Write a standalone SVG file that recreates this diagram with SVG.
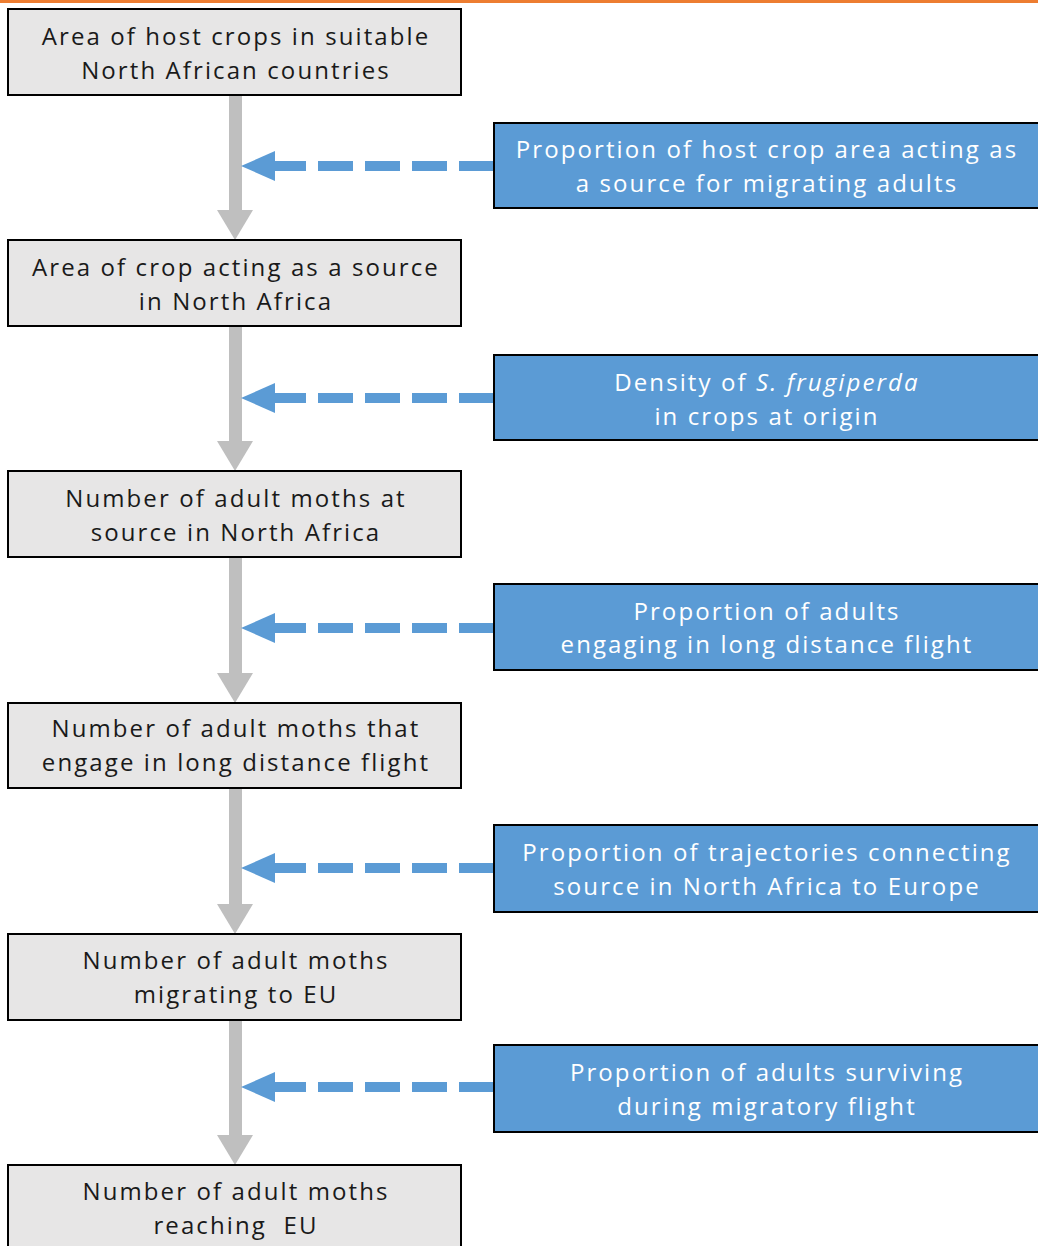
<svg xmlns="http://www.w3.org/2000/svg" width="1038" height="1246" viewBox="0 0 1038 1246">
<style>
.g{fill:#E7E6E6;stroke:#000;stroke-width:2}
.b{fill:#5B9BD5;stroke:#000;stroke-width:2}
.tg{font-family:"Open Sans","DejaVu Sans",sans-serif;font-size:24px;letter-spacing:2.1px;fill:#1a1a1a;text-anchor:middle;white-space:pre}
.tb{font-family:"Open Sans","DejaVu Sans",sans-serif;font-size:24px;letter-spacing:2.1px;fill:#fff;text-anchor:middle}
.sh{fill:#BFBFBF}
.dl{stroke:#5B9BD5;stroke-width:10;stroke-dasharray:35 12;fill:none}
.ah{fill:#5B9BD5}
</style>
<rect x="0" y="0" width="1038" height="3" fill="#ED7D31"/>
<g id="connectors">
<g class="sh">
<rect x="229" y="95" width="13" height="116"/><polygon points="217,210 253,210 235,240"/>
<rect x="229" y="326" width="13" height="116"/><polygon points="217,441 253,441 235,471"/>
<rect x="229" y="557" width="13" height="117"/><polygon points="217,673 253,673 235,703"/>
<rect x="229" y="788" width="13" height="117"/><polygon points="217,904 253,904 235,934"/>
<rect x="229" y="1020" width="13" height="116"/><polygon points="217,1135 253,1135 235,1165"/>
</g>
<path class="dl" d="M494 166H275M494 398H275M494 628H275M494 868H275M494 1087H275"/>
<g class="ah">
<polygon points="241,166 275,151 275,181"/>
<polygon points="241,398 275,383 275,413"/>
<polygon points="241,628 275,613 275,643"/>
<polygon points="241,868 275,853 275,883"/>
<polygon points="241,1087 275,1072 275,1102"/>
</g>
</g>
<g id="n1"><rect class="g" x="8" y="9" width="453" height="86"/><text class="tg" x="236" y="45">Area of host crops in suitable</text><text class="tg" x="236" y="79">North African countries</text></g>
<g id="n2"><rect class="g" x="8" y="240" width="453" height="86"/><text class="tg" x="236" y="276">Area of crop acting as a source</text><text class="tg" x="236" y="310">in North Africa</text></g>
<g id="n3"><rect class="g" x="8" y="471" width="453" height="86"/><text class="tg" x="236" y="507">Number of adult moths at</text><text class="tg" x="236" y="541">source in North Africa</text></g>
<g id="n4"><rect class="g" x="8" y="703" width="453" height="85"/><text class="tg" x="236" y="737">Number of adult moths that</text><text class="tg" x="236" y="771">engage in long distance flight</text></g>
<g id="n5"><rect class="g" x="8" y="934" width="453" height="86"/><text class="tg" x="236" y="969">Number of adult moths</text><text class="tg" x="236" y="1003">migrating to EU</text></g>
<g id="n6"><rect class="g" x="8" y="1165" width="453" height="90"/><text class="tg" x="236" y="1200">Number of adult moths</text><text class="tg" x="236" y="1234">reaching  EU</text></g>
<g id="p1"><rect class="b" x="494" y="123" width="550" height="85"/><text class="tb" x="767" y="158">Proportion of host crop area acting as</text><text class="tb" x="767" y="192">a source for migrating adults</text></g>
<g id="p2"><rect class="b" x="494" y="355" width="550" height="85"/><text class="tb" x="767" y="391">Density of <tspan font-style="italic">S. frugiperda</tspan></text><text class="tb" x="767" y="425">in crops at origin</text></g>
<g id="p3"><rect class="b" x="494" y="584" width="550" height="86"/><text class="tb" x="767" y="620">Proportion of adults</text><text class="tb" x="767" y="653">engaging in long distance flight</text></g>
<g id="p4"><rect class="b" x="494" y="825" width="550" height="87"/><text class="tb" x="767" y="861">Proportion of trajectories connecting</text><text class="tb" x="767" y="895">source in North Africa to Europe</text></g>
<g id="p5"><rect class="b" x="494" y="1045" width="550" height="87"/><text class="tb" x="767" y="1081">Proportion of adults surviving</text><text class="tb" x="767" y="1115">during migratory flight</text></g>
</svg>
